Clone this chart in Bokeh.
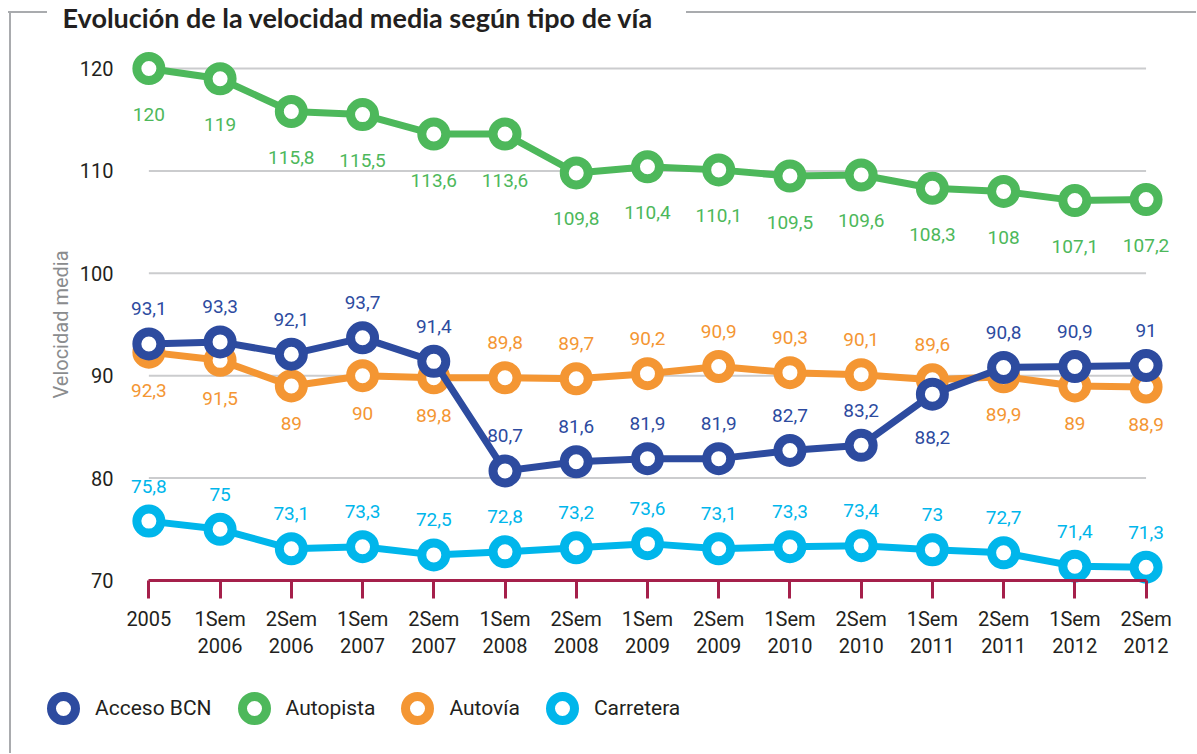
from bokeh.plotting import figure
from bokeh.models import (ColumnDataSource, FixedTicker, LinearAxis, Range1d,
                          Legend, LegendItem, Label)
from bokeh.core.properties import value
from bokeh.embed import file_html
from bokeh.resources import INLINE

# ---------------- data ----------------
categories = ["2005", "1Sem\n2006", "2Sem\n2006", "1Sem\n2007", "2Sem\n2007",
              "1Sem\n2008", "2Sem\n2008", "1Sem\n2009", "2Sem\n2009", "1Sem\n2010",
              "2Sem\n2010", "1Sem\n2011", "2Sem\n2011", "1Sem\n2012", "2Sem\n2012"]
acceso_bcn = [93.1, 93.3, 92.1, 93.7, 91.4, 80.7, 81.6, 81.9, 81.9, 82.7, 83.2, 88.2, 90.8, 90.9, 91]
autopista = [120, 119, 115.8, 115.5, 113.6, 113.6, 109.8, 110.4, 110.1, 109.5, 109.6, 108.3, 108, 107.1, 107.2]
autovia = [92.3, 91.5, 89, 90, 89.8, 89.8, 89.7, 90.2, 90.9, 90.3, 90.1, 89.6, 89.9, 89, 88.9]
carretera = [75.8, 75, 73.1, 73.3, 72.5, 72.8, 73.2, 73.6, 73.1, 73.3, 73.4, 73, 72.7, 71.4, 71.3]
y_ticks = [70, 80, 90, 100, 110, 120]
series_names = ["Acceso BCN", "Autopista", "Autovía", "Carretera"]
title_text = "Evolución de la velocidad media según tipo de vía"

# ---------------- style ----------------
BLUE, GREEN, ORANGE, CYAN = "#2D4B9F", "#4DB85B", "#F49633", "#00B6EB"
MAROON, GRID, FRAME, DARK, GREYTXT = "#A5204B", "#CBCCCE", "#A9ABAE", "#231F20", "#8A8C8E"
FONT = "Roboto"
# label placement: a = above, b = below
pos_acceso = ["a"] * 11 + ["b"] + ["a"] * 3
pos_autopista = ["b"] * 15
pos_autovia = ["b"] * 5 + ["a"] * 7 + ["b"] * 3
pos_carretera = ["a"] * 15
ABOVE = -35
BELOW = {"Acceso BCN": 43, "Autopista": 46, "Autovía": 38, "Carretera": 42}

xs = list(range(len(categories)))
W, H = 1196, 753

p = figure(width=W, height=H,
           x_range=Range1d(-2.083, 14.708),
           y_range=Range1d(53.105, 126.641),
           x_axis_type=None, y_axis_type=None,
           output_backend="svg", toolbar_location=None,
           min_border_left=0, min_border_right=0,
           min_border_top=0, min_border_bottom=0)
p.outline_line_color = None
p.background_fill_color = None
p.border_fill_color = None
g = f"linear-gradient({FRAME},{FRAME})"
p.styles = {"background-image": f"{g},{g},{g}",
            "background-size": "39px 2px, 511px 2px, 2px 742px",
            "background-position": "8px 11px, 686px 11px, 9px 11px",
            "background-repeat": "no-repeat"}

# title
p.add_layout(Label(x=62, y=H - 17, x_units="screen", y_units="screen",
                   text=title_text, text_font="Lato", text_font_size="27px",
                   text_font_style="bold", text_color=DARK,
                   text_baseline="middle", text_align="left"))

# grid lines spanning first..last category
grid_src = ColumnDataSource(dict(y=y_ticks[1:],
                                 x0=[xs[0]] * (len(y_ticks) - 1),
                                 x1=[xs[-1]] * (len(y_ticks) - 1)))
p.segment(x0="x0", x1="x1", y0="y", y1="y", source=grid_src,
          line_color=GRID, line_width=2)

def fmt(v):
    return f"{v:g}".replace(".", ",")

def add_series(name, vals, color, pos):
    src = ColumnDataSource(dict(
        x=xs, y=vals, label=[fmt(v) for v in vals],
        yoff=[ABOVE if q == "a" else BELOW[name] for q in pos]))
    p.line("x", "y", source=src, line_color=color, line_width=7)
    r = p.scatter("x", "y", source=src, size=24, line_width=9,
                  line_color=color, fill_color="white")
    return src, r

renderers = {}
sources = {}
for name, vals, color, pos in [("Autopista", autopista, GREEN, pos_autopista),
                               ("Carretera", carretera, CYAN, pos_carretera),
                               ("Autovía", autovia, ORANGE, pos_autovia),
                               ("Acceso BCN", acceso_bcn, BLUE, pos_acceso)]:
    s, r = add_series(name, vals, color, pos)
    sources[name] = (s, color)
    renderers[name] = r

for name, (s, color) in sources.items():
    p.text("x", "y", text="label", y_offset="yoff", source=s,
           text_align="center", text_baseline="middle",
           text_color=color, text_font=value(FONT), text_font_size="19px")

# axes (fixed inside the frame)
xaxis = LinearAxis(ticker=FixedTicker(ticks=xs), fixed_location=y_ticks[0],
                   major_label_overrides={i: c for i, c in enumerate(categories)},
                   bounds=(xs[0], xs[-1]),
                   axis_line_color=MAROON, axis_line_width=3,
                   major_tick_line_color=MAROON, major_tick_line_width=3,
                   major_tick_out=18, major_tick_in=0,
                   minor_tick_line_color=None,
                   major_label_standoff=9,
                   major_label_text_font=FONT,
                   major_label_text_font_size="20px",
                   major_label_text_line_height=1.1,
                   major_label_text_color=DARK)
p.add_layout(xaxis, "below")

yaxis = LinearAxis(ticker=FixedTicker(ticks=y_ticks), fixed_location=-0.3,
                   bounds=(y_ticks[0], y_ticks[-1]),
                   axis_label="Velocidad media",
                   axis_line_color=None, major_tick_line_color=None,
                   minor_tick_line_color=None, major_tick_out=0, major_tick_in=0,
                   major_label_standoff=14, axis_label_standoff=4,
                   axis_label_text_font=FONT, axis_label_text_font_size="20px",
                   axis_label_text_font_style="normal", axis_label_text_color=GREYTXT,
                   major_label_text_font=FONT, major_label_text_font_size="20px",
                   major_label_text_color=DARK)
p.add_layout(yaxis, "left")

# legend
legend = Legend(items=[LegendItem(label=n, renderers=[renderers[n]]) for n in series_names],
                orientation="horizontal", location=(33, 15),
                glyph_width=60, glyph_height=60, label_standoff=2, spacing=12,
                padding=0, margin=0, border_line_color=None, background_fill_alpha=0,
                label_text_font=FONT, label_text_font_size="21px",
                label_text_color=DARK)
p.add_layout(legend)

open("out.html", "w").write(file_html(p, INLINE))
